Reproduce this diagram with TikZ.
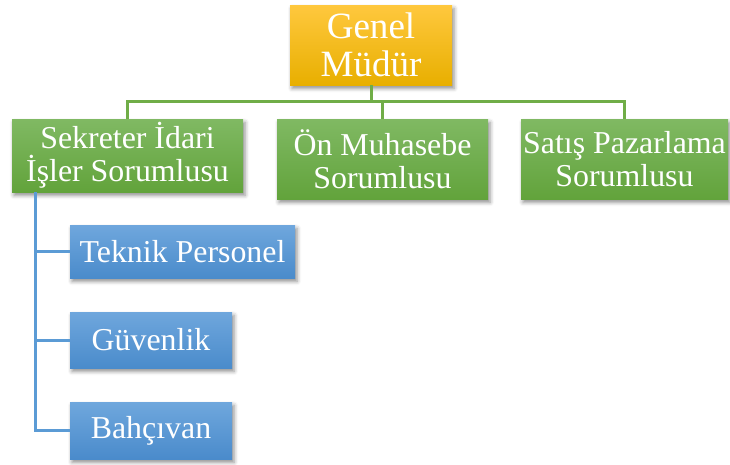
\documentclass[tikz,border=0pt]{standalone}
\usepackage{fontspec}
\setmainfont{Liberation Serif}
\newfontfamily\boxfont{Liberation Serif}
\usetikzlibrary{shadows.blur}
\definecolor{orTop}{HTML}{FFC83E}
\definecolor{orBot}{HTML}{E8AF00}
\definecolor{grTop}{HTML}{80B963}
\definecolor{grBot}{HTML}{62A33B}
\definecolor{blTop}{HTML}{6FA7DD}
\definecolor{blBot}{HTML}{4A8BCB}
\definecolor{gLine}{HTML}{70AD47}
\definecolor{bLine}{HTML}{5B9BD5}
\tikzset{
  x=0.75pt, y=-0.75pt,
  boxbase/.style={inner sep=0pt, align=center, text=white,
    blur shadow={shadow xshift=1.5pt, shadow yshift=-2.5pt, shadow opacity=45, shadow blur radius=3pt}},
  orbox/.style={boxbase, top color=orTop, bottom color=orBot,
    font=\boxfont\fontsize{27.8}{28.5}\selectfont},
  grbox/.style={boxbase, top color=grTop, bottom color=grBot,
    font=\boxfont\fontsize{23.9}{25}\selectfont},
  blbox/.style={boxbase, top color=blTop, bottom color=blBot,
    font=\boxfont\fontsize{23.9}{25}\selectfont},
  gline/.style={draw=gLine, line width=2.25pt},
  bline/.style={draw=bLine, line width=2.25pt},
}
\begin{document}
\begin{tikzpicture}
\useasboundingbox (0,0) rectangle (730,464);
\coordinate (bus) at (0,101);
\coordinate (trunk) at (35,0);
\node[orbox, minimum width=162*0.75pt, minimum height=80*0.75pt] (gm) at (371,45) {Genel\\Müdür};
\node[grbox, minimum width=231*0.75pt, minimum height=73*0.75pt] (sek) at (127.5,155.5) {Sekreter İdari\\İşler Sorumlusu};
\node[grbox, minimum width=211*0.75pt, minimum height=80*0.75pt] (on) at (382.5,159) {Ön Muhasebe\\Sorumlusu};
\node[grbox, minimum width=207*0.75pt, minimum height=80*0.75pt] (sat) at (624.5,159) {Satış Pazarlama\\Sorumlusu};
\node[blbox, minimum width=225*0.75pt, minimum height=53*0.75pt] (tek) at (182.5,251.5) {Teknik Personel};
\node[blbox, minimum width=162*0.75pt, minimum height=56*0.75pt] (guv) at (151,340) {Güvenlik};
\node[blbox, minimum width=162*0.75pt, minimum height=57*0.75pt] (bah) at (151,430.5) {Bahçıvan};
\draw[gline] (gm.south) -- (gm.south |- bus);
\draw[gline] (on.north) -- (on.north |- bus);
\draw[gline] (sek.north) |- (bus -| sat.north) -- (sat.north);
\draw[bline] (sek.south -| trunk) |- (bah.west);
\draw[bline] (trunk |- tek.west) -- (tek.west);
\draw[bline] (trunk |- guv.west) -- (guv.west);
\end{tikzpicture}
\end{document}
